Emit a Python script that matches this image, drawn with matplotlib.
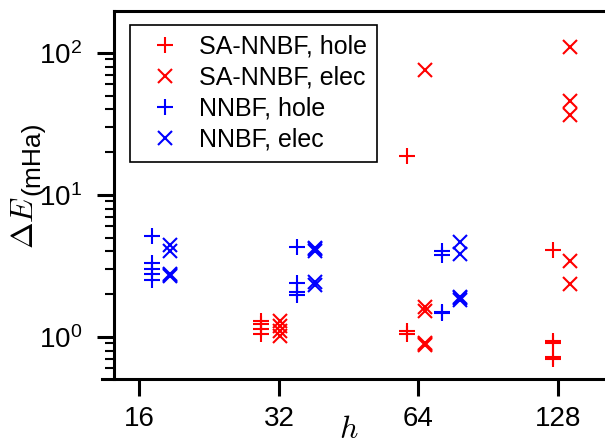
import math
import matplotlib
matplotlib.use("Agg")
import matplotlib.pyplot as plt
from matplotlib.ticker import FixedLocator, FuncFormatter, NullLocator

plt.rcParams['font.family'] = ['Liberation Sans', 'DejaVu Sans']
plt.rcParams['mathtext.fontset'] = 'cm'

# tick values on the h axis
h_ticks = [16, 32, 64, 128]

# SA-NNBF, hole  (x = h, shifted a little so the series do not overlap)
sa_hole_x = [29.3, 29.3, 29.3, 29.3, 60.6, 60.6, 60.6, 124.9, 124.9, 124.9, 124.9, 124.9]
sa_hole_y = [1.3, 1.22, 1.14, 1.05, 18.7, 1.1, 1.04, 4.1, 0.94, 0.9, 0.72, 0.7]

# SA-NNBF, elec
sa_elec_x = [32.2, 32.2, 32.2, 32.2, 66.1, 66.1, 66.1, 66.1, 66.1, 66.1,
             135.8, 135.8, 135.8, 135.8, 135.8]
sa_elec_y = [1.3, 1.2, 1.1, 1.01, 75.5, 1.62, 1.52, 0.9, 0.88, 0.89,
             110, 46, 36.5, 3.4, 2.35]

# NNBF, hole
nn_hole_x = [17.0, 17.0, 17.0, 17.0, 17.0, 35.0, 35.0, 35.0, 35.0, 72.1, 72.1, 72.1, 72.1]
nn_hole_y = [5.1, 3.3, 3.0, 2.75, 2.5, 4.3, 2.4, 2.05, 1.98, 4.0, 3.75, 1.5, 1.47]

# NNBF, elec
nn_elec_x = [18.6, 18.6, 18.6, 18.6, 18.6, 38.2, 38.2, 38.2, 38.2, 38.2,
             78.8, 78.8, 78.8, 78.8, 78.8]
nn_elec_y = [4.4, 4.0, 2.72, 2.68, 2.76, 4.02, 4.12, 4.2, 2.32, 2.42,
             4.65, 3.8, 1.86, 1.82, 1.9]

fig = plt.figure(figsize=(6.05, 4.47), dpi=100)
ax = fig.add_axes([0.1884, 0.1532, 0.826, 0.8222])

ax.plot(sa_hole_x, sa_hole_y, '+', color='#ff0000', ms=12, mew=1.5, ls='none', label='SA-NNBF, hole')
ax.plot(sa_elec_x, sa_elec_y, 'x', color='#ff0000', ms=10, mew=1.5, ls='none', label='SA-NNBF, elec')
ax.plot(nn_hole_x, nn_hole_y, '+', color='#0000ff', ms=12, mew=1.5, ls='none', label='NNBF, hole')
ax.plot(nn_elec_x, nn_elec_y, 'x', color='#0000ff', ms=10, mew=1.5, ls='none', label='NNBF, elec')

ax.set_xscale('log', base=2)
ax.set_yscale('log')
ax.set_xlim(14.1, 169)
ax.set_ylim(0.508, 197)

ax.xaxis.set_major_locator(FixedLocator(h_ticks))
ax.xaxis.set_minor_locator(NullLocator())
ax.xaxis.set_major_formatter(FuncFormatter(lambda v, p: '%d' % v))
ax.yaxis.set_major_formatter(FuncFormatter(
    lambda v, p: r'$\mathregular{10^{%d}}$' % round(math.log10(v))))

for s in ['left', 'bottom', 'top', 'right']:
    ax.spines[s].set_linewidth(2.2)
ax.spines['bottom'].set_bounds(13.3, 169)

ax.tick_params(axis='x', which='major', direction='out', length=12, width=2.2,
               labelsize=20, pad=8)
ax.tick_params(axis='y', which='major', direction='out', length=12, width=2.2,
               labelsize=20, pad=11)
ax.tick_params(axis='y', which='minor', direction='out', length=6.5, width=1.5)

leg = ax.legend(loc='upper left', bbox_to_anchor=(0.032, 0.962), borderaxespad=0,
                fontsize=18, numpoints=1, fancybox=False, framealpha=1,
                edgecolor='black', labelspacing=0.28, handletextpad=0.36,
                borderpad=0.4, handlelength=2.0)
leg.get_frame().set_linewidth(1.2)

fig.text(25 / 605, 1 - 222.5 / 447, r'$\Delta E$', rotation=90, fontsize=23,
         ha='center', va='center')
fig.text(32 / 605, 1 - 158.5 / 447, '(mHa)', rotation=90, fontsize=19,
         ha='center', va='center')
fig.text(349 / 605, 2 / 447, r'$h$', fontsize=23, ha='center', va='bottom')

fig.savefig('out.png', dpi=100)
